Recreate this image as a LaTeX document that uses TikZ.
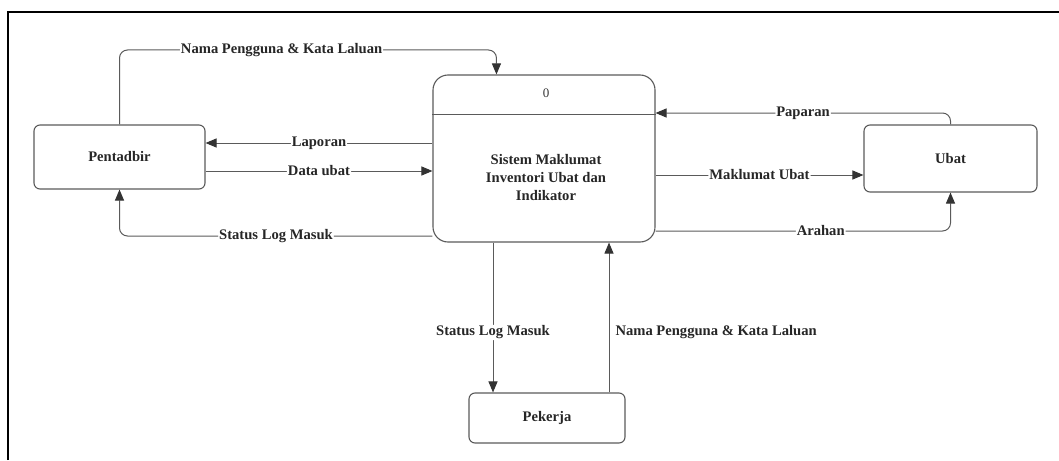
\documentclass[tikz,border=0pt]{standalone}
\usepackage{fontspec}
\setmainfont{Liberation Serif}
\usetikzlibrary{arrows.meta}
\definecolor{linegray}{HTML}{5A5A5A}
\definecolor{tipgray}{HTML}{333333}
\tikzset{
  box/.style={draw=linegray, line width=1.1pt, rounded corners=6pt, font=\fontsize{14.6}{18}\selectfont\bfseries, text=black!85, align=center},
  procbox/.style={draw=linegray, line width=1.1pt, rounded corners=15pt, minimum width=222pt, minimum height=167pt},
  flow/.style={draw=linegray, line width=1pt, rounded corners=8pt, -{Triangle[length=11pt,width=9pt,fill=tipgray,color=tipgray]}},
  lab/.style={fill=white, inner sep=1pt, font=\fontsize{14.6}{18}\selectfont\bfseries, text=black!85},
}
\begin{document}
\begin{tikzpicture}[x=1pt,y=-1pt]
\useasboundingbox (0,0) rectangle (1059,460);
\draw[line width=2.5pt] (8,460) -- (8,12) -- (1059,12);

\node[box, minimum width=171pt, minimum height=64pt] (pent) at (119.5,157) {Pentadbir};
\node[procbox] (proc) at (544,158.5) {};
\node[box, minimum width=173pt, minimum height=67pt] (ubat) at (950.5,158.5) {Ubat};
\node[box, minimum width=156pt, minimum height=50pt] (pek) at (547,418) {Pekerja};

\node[font=\fontsize{13}{16}\selectfont, text=black!80] (pid) at (546,93) {0};
\draw[draw=linegray, line width=1pt] (proc.west |- 0,114) -- (proc.east |- 0,114);
\node[font=\fontsize{14.6}{18}\selectfont\bfseries, text=black!85, align=center] (ptext) at (546,178) {Sistem Maklumat\\Inventori Ubat dan\\Indikator};

\coordinate (procin) at ([xshift=64pt]proc.north west);

% Pentadbir <-> process
\draw[flow] (pent.north) -- (pent.north |- 0,50) -- node[lab, pos=0.43] {Nama Pengguna \& Kata Laluan} (procin |- 0,50) -- (procin);
\draw[flow] (proc.west |- 0,143) -- node[lab] {Laporan} (pent.east |- 0,143);
\draw[flow] (pent.east |- 0,171) -- node[lab] {Data ubat} (proc.west |- 0,171);
\draw[flow] (proc.west |- 0,236) -- node[lab] {Status Log Masuk} (pent.south |- 0,236) -- (pent.south);

% process <-> Ubat
\draw[flow] (ubat.north) -- (ubat.north |- 0,113) -- node[lab] {Paparan} (proc.east |- 0,113);
\draw[flow] (proc.east |- 0,175) -- node[lab] {Maklumat Ubat} (ubat.west |- 0,175);
\draw[flow] (proc.east |- 0,231) -- node[lab, pos=0.56] {Arahan} (ubat.south |- 0,231) -- (ubat.south);

% process <-> Pekerja
\draw[flow] (proc.south -| 493,0) -- node[lab, pos=0.6] {Status Log Masuk} (pek.north -| 493,0);
\draw[flow] (pek.north -| 609,0) -- node[lab, pos=0.4, anchor=west, xshift=5pt] {Nama Pengguna \& Kata Laluan} (proc.south -| 609,0);
\end{tikzpicture}
\end{document}
